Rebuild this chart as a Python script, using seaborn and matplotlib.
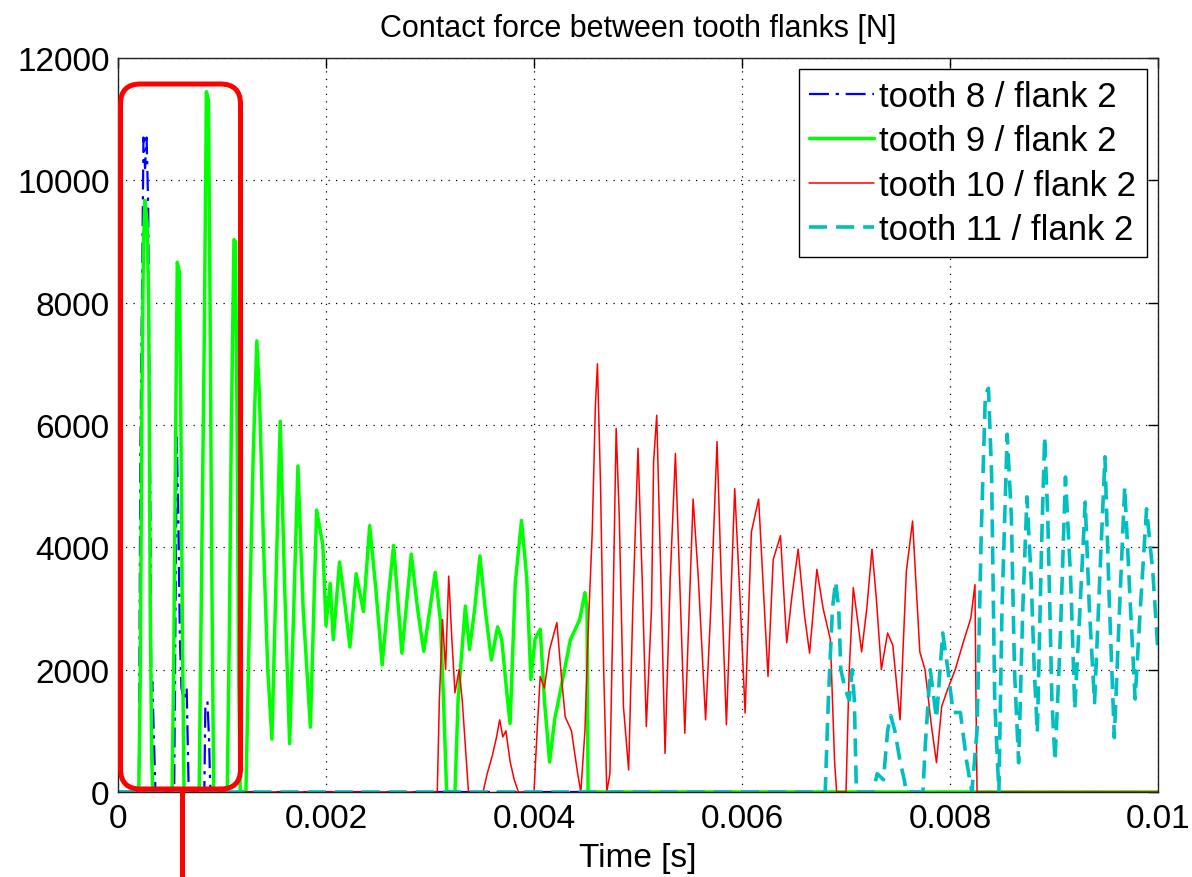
import numpy as np
import pandas as pd
import matplotlib
matplotlib.use("Agg")
import matplotlib.pyplot as plt
import seaborn as sns
from matplotlib.patches import FancyBboxPatch
from matplotlib.lines import Line2D

# ---------------- data (time in ms, force in N) ----------------
t8_ms = [0, 0.20, 0.205, 0.215, 0.23, 0.245, 0.26, 0.275, 0.29, 0.30, 0.31, 0.32,
         0.33, 0.36, 0.54, 0.565, 0.58, 0.595, 0.61, 0.635, 0.66, 0.68, 0.83, 0.84,
         0.86, 0.875, 0.885, 0.89, 10.0]
f8 = [0, 0, 1500, 5500, 8000, 10700, 10200, 10700, 9600, 7200, 5000, 1700,
      1800, 0, 0, 5800, 4500, 2500, 1700, 1500, 1700, 0, 0, 1400,
      1480, 900, 200, 0, 0]

t9_ms = [0, 0.20, 0.215, 0.23, 0.245, 0.26, 0.28, 0.295, 0.31, 0.325, 0.335,
         0.52, 0.535, 0.555, 0.57, 0.59, 0.605, 0.62, 0.635,
         0.78, 0.80, 0.83, 0.85, 0.87, 0.885, 0.90, 0.92,
         1.05, 1.07, 1.09, 1.115, 1.13, 1.145, 1.16, 1.175,
         1.23, 1.26, 1.30, 1.335, 1.36, 1.40, 1.44, 1.48, 1.52, 1.56, 1.60, 1.65,
         1.69, 1.73, 1.78, 1.85, 1.91, 1.97, 2.00, 2.04, 2.07, 2.13, 2.18, 2.23,
         2.29, 2.36, 2.42, 2.48, 2.54, 2.60, 2.65, 2.73, 2.82, 2.88, 2.94, 3.00,
         3.05, 3.10, 3.13, 3.16, 3.24, 3.27, 3.34, 3.38, 3.43, 3.48, 3.53, 3.59,
         3.65, 3.69, 3.74, 3.77, 3.82, 3.88, 3.93, 3.97, 4.01, 4.06, 4.10, 4.15,
         4.20, 4.25, 4.35, 4.44, 4.49, 4.51, 4.52, 10.0]
f9 = [0, 0, 2000, 6500, 9000, 9670, 9300, 8000, 3000, 500, 0,
      0, 2000, 6000, 8660, 8500, 6000, 2500, 0,
      0, 3000, 7500, 11450, 11300, 8000, 4000, 0,
      0, 2500, 6000, 9030, 9000, 6000, 2000, 0,
      0, 2500, 5500, 7375, 6500, 4000, 2000, 865, 3500, 6060, 3500, 790,
      3000, 5330, 3000, 1060, 4610, 4030, 2720, 3410, 2490, 3760, 3100, 2370,
      3570, 2950, 4355, 3300, 2080, 3200, 4030, 2270, 3890, 3000, 2300, 3000,
      3590, 2800, 1500, 0, 0, 1500, 3040, 2330, 3000, 3860, 3000, 2160,
      2700, 2490, 1600, 1120, 3420, 4440, 3500, 1840, 2500, 2660, 1500, 490,
      1200, 1620, 2490, 2820, 3260, 3000, 0, 0]

t10_ms = [0, 3.07, 3.09, 3.12, 3.15, 3.18, 3.21, 3.24, 3.28, 3.31, 3.35, 3.37,
          3.51, 3.55, 3.60, 3.64, 3.67, 3.70, 3.73, 3.77, 3.81, 3.85,
          4.00, 4.03, 4.06, 4.10, 4.15, 4.22, 4.26, 4.30, 4.36, 4.42, 4.45,
          4.49, 4.52, 4.56, 4.59, 4.61, 4.64, 4.67, 4.70, 4.73, 4.76, 4.79, 4.82,
          4.86, 4.91, 4.95, 5.00, 5.04, 5.08, 5.13, 5.15, 5.18, 5.22, 5.26, 5.31,
          5.36, 5.40, 5.45, 5.53, 5.58, 5.65, 5.70, 5.76, 5.80, 5.85, 5.93, 5.98,
          6.03, 6.09, 6.16, 6.20, 6.25, 6.30, 6.37, 6.43, 6.48, 6.54, 6.60, 6.65,
          6.72, 6.78, 6.85, 6.89, 6.91, 7.00, 7.03, 7.07, 7.12, 7.15, 7.20, 7.25,
          7.29, 7.34, 7.40, 7.45, 7.52, 7.58, 7.64, 7.68, 7.71, 7.76, 7.82, 7.87,
          7.92, 7.98, 8.05, 8.13, 8.20, 8.24, 8.25, 8.26, 10.0]
f10 = [0, 0, 1500, 2820, 2000, 3530, 2500, 1620, 2000, 1500, 500, 0,
       0, 300, 600, 900, 1180, 900, 1000, 500, 200, 0,
       0, 1000, 1890, 1700, 2330, 2770, 1950, 1230, 1000, 300, 0,
       1000, 2600, 4250, 6300, 7000, 5000, 2000, 0, 300, 3000, 5945, 4500,
       1400, 360, 3000, 5620, 3500, 1070, 3000, 5400, 6160, 3500, 630, 3500,
       5534, 3500, 960, 4790, 3500, 1180, 3000, 5730, 3500, 1100, 4960, 3200,
       1290, 4250, 4790, 3500, 1890, 3800, 4190, 2440, 3200, 3970, 2900, 2270,
       3640, 3000, 2490, 500, 0, 0, 1945, 3340, 2700, 2290, 3000, 3970,
       3200, 2000, 2600, 2400, 1180, 3600, 4430, 3200, 2290, 2000, 1100, 480,
       1400, 1690, 2000, 2460, 2840, 3390, 1500, 0, 0]

t11_ms = [0, 6.80, 6.83, 6.87, 6.90, 6.93, 6.95, 6.99, 7.03, 7.06, 7.08, 7.10,
          7.26, 7.30, 7.36, 7.40, 7.43, 7.47, 7.52, 7.56, 7.58,
          7.74, 7.76, 7.81, 7.87, 7.93, 7.98, 8.03, 8.10, 8.16, 8.21,
          8.26, 8.30, 8.34, 8.37, 8.40, 8.43, 8.47, 8.50, 8.55, 8.59, 8.62, 8.66,
          8.70, 8.74, 8.78, 8.81, 8.84, 8.88, 8.91, 8.94, 8.98, 9.01, 9.06, 9.11,
          9.16, 9.20, 9.25, 9.30, 9.34, 9.39, 9.44, 9.49, 9.53, 9.58, 9.63, 9.68,
          9.73, 9.78, 9.83, 9.89, 9.95, 10.0]
f11 = [0, 0, 1500, 3000, 3440, 3000, 2000, 1700, 1500, 2000, 1500, 0,
       0, 300, 200, 1000, 1250, 1000, 500, 200, 0,
       0, 700, 2000, 1200, 2600, 2000, 1300, 1300, 500, 0,
       1000, 4200, 6500, 6600, 5200, 1500, 0, 3000, 5850, 4500, 2000, 480,
       3000, 4825, 3500, 2000, 970, 4000, 5810, 4500, 1500, 510, 2500, 5150,
       3500, 1355, 3000, 4740, 3000, 1460, 3500, 5480, 3200, 890, 3000, 4990,
       3200, 1520, 3000, 4630, 3600, 2280]

series_labels = ["tooth 8 / flank 2", "tooth 9 / flank 2",
                 "tooth 10 / flank 2", "tooth 11 / flank 2"]
x_ticks = [0, 0.002, 0.004, 0.006, 0.008, 0.01]
x_tick_labels = ["0", "0.002", "0.004", "0.006", "0.008", "0.01"]
y_ticks = [0, 2000, 4000, 6000, 8000, 10000, 12000]
y_tick_labels = ["0", "2000", "4000", "6000", "8000", "10000", "12000"]

# ---------------- styling ----------------
sns.set_style("white")
plt.rcParams['font.family'] = ['Liberation Sans', 'DejaVu Sans']
plt.rcParams['text.color'] = 'black'
plt.rcParams['axes.labelcolor'] = 'black'

fig = plt.figure(figsize=(11.92, 8.78), dpi=100)
ax = fig.add_axes([118 / 1192, 1 - 793 / 878, 1040 / 1192, 734 / 878])

specs = [
    (t8_ms, f8, "#0000ff", 1.6, (0, (9, 3, 1.5, 3))),
    (t9_ms, f9, "#00ff00", 2.5, "-"),
    (t10_ms, f10, "#ff0000", 1.1, "-"),
    (t11_ms, f11, "#00bfbf", 2.6, (0, (5, 2.5))),
]
for (tm, fv, col, lw, ls), lab in zip(specs, series_labels):
    df = pd.DataFrame({"t": np.asarray(tm) / 1000.0, "F": fv})
    sns.lineplot(data=df, x="t", y="F", ax=ax, color=col, linewidth=lw,
                 sort=False, estimator=None, label=lab)
    ax.lines[-1].set_linestyle(ls)

ax.set_xlim(0, 0.01)
ax.set_ylim(0, 12000)
ax.set_xticks(x_ticks)
ax.set_xticklabels(x_tick_labels)
ax.set_yticks(y_ticks)
ax.set_yticklabels(y_tick_labels)
ax.tick_params(direction="in", length=7, width=1, top=True, right=True,
               labelsize=24, colors="black")
ax.tick_params(axis="x", pad=8)
ax.tick_params(axis="y", pad=6)
ax.grid(True, color="black", linestyle=(0, (1, 5)), linewidth=0.9)
for s in ax.spines.values():
    s.set_color("#222222")
    s.set_linewidth(1.0)

ax.set_xlabel("Time [s]", fontsize=24, labelpad=6, color="black")
ax.set_ylabel("")
ax.set_title("Contact force between tooth flanks [N]", fontsize=22, pad=16,
             color="black")

leg = ax.legend(loc="upper right", fontsize=25, frameon=True, fancybox=False,
                edgecolor="black", framealpha=1, borderpad=0.3,
                handlelength=1.87, handletextpad=0.15, labelspacing=0.33,
                borderaxespad=0.33)
leg.get_frame().set_linewidth(1.0)
for txt in leg.get_texts():
    txt.set_color("black")

# ---------------- red annotation (figure inches) ----------------
rect = FancyBboxPatch((1.205, 0.88), 1.2, 7.05,
                      boxstyle="round,pad=0,rounding_size=0.2",
                      transform=fig.dpi_scale_trans, fill=False,
                      edgecolor="#ff0000", linewidth=3.6, zorder=10)
fig.add_artist(rect)
fig.add_artist(Line2D([1.82, 1.82], [0.0, 0.88], transform=fig.dpi_scale_trans,
                      color="#ff0000", linewidth=3.6, zorder=10))

fig.savefig("out.png", dpi=100, facecolor="white")
